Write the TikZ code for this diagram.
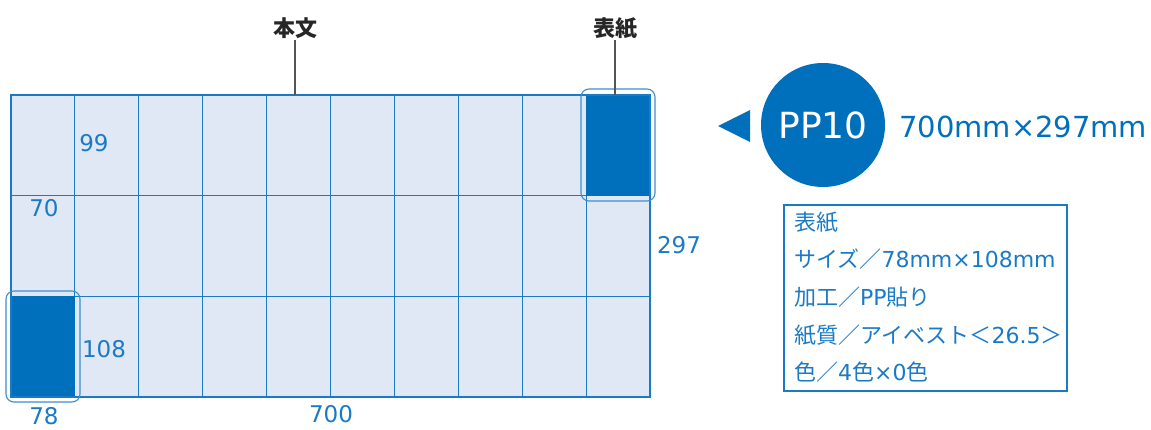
\documentclass[tikz,border=0pt]{standalone}
\usepackage{fontspec}
\setmainfont{DejaVu Sans}
\newfontfamily\jp{Noto Sans CJK JP}
\usetikzlibrary{positioning}
\definecolor{ppblue}{HTML}{0070BC}
\definecolor{gridblue}{HTML}{1A7AC6}
\definecolor{sheetfill}{HTML}{E0E8F5}
\definecolor{leadgray}{HTML}{555555}

\begin{document}
\begin{tikzpicture}[
    x=1pt, y=-1pt,
    gridline/.style={gridblue, line width=1.1pt},
    coverbox/.style={gridblue!85, line width=1.1pt, rounded corners=8pt},
    dimlabel/.style={text=gridblue, font=\fontsize{23}{23}\selectfont, inner sep=0pt},
    partname/.style={text=black!85, font=\jp\bfseries\fontsize{22}{22}\selectfont, inner sep=1pt},
    specline/.style={text=gridblue, font=\fontsize{22}{22}\selectfont, inner sep=0pt, anchor=west},
    leader/.style={leadgray, line width=1.3pt}
]
   \useasboundingbox (0,0) rectangle (1151,430);

   % Sheet
   \fill[sheetfill] (11,95) rectangle (650,397);
   \foreach \i in {1,...,9}
      \draw[gridline] ({11+63.9*\i},95) -- ({11+63.9*\i},397);
   \foreach \j in {1,2}
      \draw[gridline] (11,{95+100.67*\j}) -- (650,{95+100.67*\j});
   \fill[ppblue] (586,95) rectangle (650,196); % cover, top right
   \fill[ppblue] (11,296) rectangle (75,397); % cover, bottom left
   \draw[gridblue, line width=2pt] (11,95) rectangle (650,397);
   \draw[coverbox] (581,89) rectangle (655,201);
   \draw[coverbox] (6,291) rectangle (80,402);

   % Part names
   \node[partname] (honbun) at (295,28) {本文};
   \node[partname] (hyoshi) at (615,28) {表紙};
   \coordinate (honbuntip) at (295,95);
   \coordinate (hyoshitip) at (615,95);
   \draw[leader] (honbun) -- (honbuntip);
   \draw[leader] (hyoshi) -- (hyoshitip);

   % Sizes
   \node[dimlabel] (w99) at (94,143) {99};
   \node[dimlabel] (w70) at (44,208) {70};
   \node[dimlabel] (h108) at (104,349) {108};
   \node[dimlabel] (w78) at (44,416) {78};
   \node[dimlabel] (w700) at (331,414) {700};
   \node[dimlabel] (h297) at (679,245) {297};

   % PP10
   \fill[ppblue] (718,126) -- (750,110) -- (750,142) -- cycle;
   \node[circle, fill=ppblue, minimum size=124pt, inner sep=0pt, text=white,
         font=\fontsize{36}{36}\selectfont] (pp) at (823,125) {PP10};
   \node[text=ppblue, font=\fontsize{29}{29}\selectfont, inner sep=0pt, anchor=west]
         (ppsize) at (899,127) {700mm×297mm};

   % Cover specs
   \node[draw=gridblue, line width=1.2pt, minimum width=283pt, minimum height=186pt,
         inner sep=0pt] (specbox) at (925.5,298) {};
   \node[specline] (spec1) at (794,222) {\jp 表紙};
   \node[specline] (spec2) at (794,259) {{\jp サイズ／}78mm×108mm};
   \node[specline] (spec3) at (794,297) {{\jp 加工／}PP{\jp 貼り}};
   \node[specline] (spec4) at (794,335) {{\jp 紙質／アイベスト＜}26.5{\jp ＞}};
   \node[specline] (spec5) at (794,372) {{\jp 色／}4{\jp 色}×0{\jp 色}};
\end{tikzpicture}
\end{document}
